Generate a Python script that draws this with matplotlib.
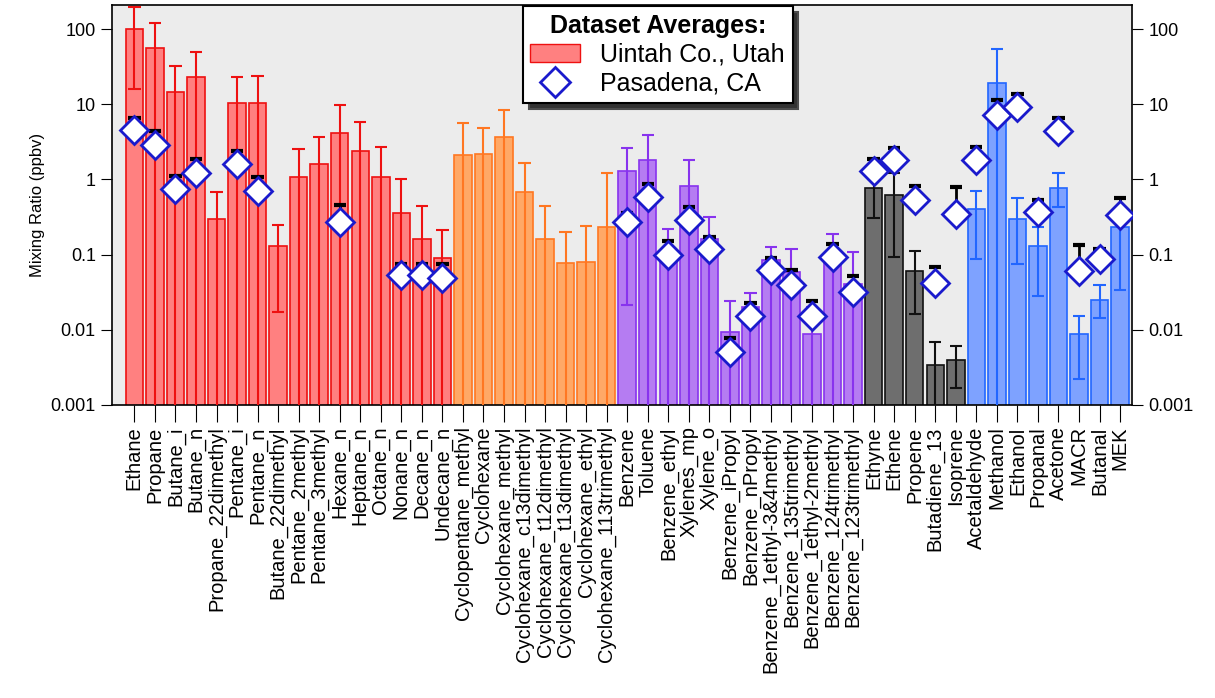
import numpy as np
import matplotlib.pyplot as plt
import matplotlib.patches as mpatches
from matplotlib.lines import Line2D
import matplotlib.ticker as mticker
from matplotlib.patches import Shadow

plt.rcParams['font.family'] = ['Liberation Sans', 'DejaVu Sans']

names = ['Ethane', 'Propane', 'Butane_i', 'Butane_n', 'Propane_22dimethyl', 'Pentane_i', 'Pentane_n',
         'Butane_22dimethyl', 'Pentane_2methyl', 'Pentane_3methyl', 'Hexane_n', 'Heptane_n', 'Octane_n',
         'Nonane_n', 'Decane_n', 'Undecane_n',
         'Cyclopentane_methyl', 'Cyclohexane', 'Cyclohexane_methyl', 'Cyclohexane_c13dimethyl',
         'Cyclohexane_t12dimethyl', 'Cyclohexane_t13dimethyl', 'Cyclohexane_ethyl', 'Cyclohexane_113trimethyl',
         'Benzene', 'Toluene', 'Benzene_ethyl', 'Xylenes_mp', 'Xylene_o', 'Benzene_iPropyl', 'Benzene_nPropyl',
         'Benzene_1ethyl-3&4methyl', 'Benzene_135trimethyl', 'Benzene_1ethyl-2methyl', 'Benzene_124trimethyl',
         'Benzene_123trimethyl',
         'Ethyne', 'Ethene', 'Propene', 'Butadiene_13', 'Isoprene',
         'Acetaldehyde', 'Methanol', 'Ethanol', 'Propanal', 'Acetone', 'MACR', 'Butanal', 'MEK']
group = ['alk'] * 16 + ['cyc'] * 8 + ['aro'] * 12 + ['ole'] * 5 + ['oxy'] * 8

# Uintah averages, upper and lower error ends (None = extends below axis)
uintah = [100, 56, 14.7, 23.4, 0.30, 10.3, 10.3, 0.128, 1.06, 1.6, 4.2, 2.4, 1.06, 0.36, 0.16, 0.091,
          2.1, 2.15, 3.7, 0.67, 0.16, 0.078, 0.08, 0.23,
          1.28, 1.8, 0.105, 0.81, 0.16, 0.0091, 0.02, 0.085, 0.058, 0.0086, 0.09, 0.04,
          0.78, 0.62, 0.061, 0.0033, 0.0038,
          0.40, 19, 0.30, 0.128, 0.78, 0.0086, 0.025, 0.23]
u_hi = [196, 120, 32, 49, 0.67, 23.4, 24, 0.25, 2.5, 3.7, 9.7, 5.8, 2.7, 1.0, 0.44, 0.21,
        5.6, 4.8, 8.3, 1.66, 0.44, 0.20, 0.24, 1.23,
        2.6, 3.9, 0.22, 1.8, 0.32, 0.024, 0.031, 0.125, 0.12, 0.02, 0.19, 0.107,
        1.0, 1.2, 0.11, 0.0069, 0.0061,
        0.7, 55, 0.56, 0.23, 1.2, 0.015, 0.039, 0.4]
u_lo = [16, None, None, None, None, None, None, 0.017, None, None, None, None, None, None, None, None,
        None, None, None, None, None, None, None, None,
        0.021, None, None, None, None, None, None, None, None, None, None, None,
        0.31, 0.094, 0.016, None, 0.0017,
        0.088, None, 0.074, 0.028, 0.43, 0.0022, 0.0145, 0.034]

# Pasadena averages and upper error (NaN = not measured)
nan = np.nan
pasadena = [4.6, 2.9, 0.74, 1.2, nan, 1.6, 0.7, nan, nan, nan, 0.27, nan, nan, 0.054, 0.054, 0.049,
            nan, nan, nan, nan, nan, nan, nan, nan,
            0.27, 0.58, 0.10, 0.29, 0.12, 0.005, 0.015, 0.063, 0.039, 0.015, 0.094, 0.032,
            1.28, 1.8, 0.54, 0.042, 0.35,
            1.8, 7.2, 9.1, 0.37, 4.4, 0.061, 0.088, 0.34]
p_hi = [6.5, 4.4, 1.1, 1.85, nan, 2.4, 1.06, nan, nan, nan, 0.46, nan, nan, 0.074, 0.074, 0.074,
        nan, nan, nan, nan, nan, nan, nan, nan,
        0.36, 0.86, 0.15, 0.43, 0.17, 0.0078, 0.023, 0.09, 0.062, 0.024, 0.14, 0.052,
        1.85, 2.6, 0.81, 0.069, 0.79,
        2.7, 11.5, 13.9, 0.53, 6.6, 0.135, 0.12, 0.56]

face = {'alk': '#ff8080', 'cyc': '#ffa866', 'aro': '#b57cf2', 'ole': '#6e6e6e', 'oxy': '#7ea2ff'}
edge = {'alk': '#ee1111', 'cyc': '#ff7722', 'aro': '#8833ee', 'ole': '#111111', 'oxy': '#2266ff'}

fig = plt.figure(figsize=(12.15, 6.98), dpi=100)
ax = fig.add_axes([0.092, 0.42, 0.84, 0.573])
ax.set_facecolor('#ececec')
x = np.arange(len(names))
fc = [face[g] for g in group]
ec = [edge[g] for g in group]
ax.bar(x, uintah, width=0.85, bottom=1e-4, color=fc, edgecolor=ec, linewidth=1.2, zorder=2)
for i in x:
    lo = u_lo[i] if u_lo[i] is not None else 1e-4
    ax.vlines(i, lo, u_hi[i], color=ec[i], lw=1.5, zorder=3)
    ax.hlines(u_hi[i], i - 0.3, i + 0.3, color=ec[i], lw=1.5, zorder=3)
    if u_lo[i] is not None:
        ax.hlines(lo, i - 0.3, i + 0.3, color=ec[i], lw=1.5, zorder=3)
pas = np.array(pasadena)
ph = np.array(p_hi)
for i in x:
    if not np.isnan(pas[i]):
        ax.vlines(i, pas[i], ph[i], color='black', lw=2, zorder=4)
        ax.hlines(ph[i], i - 0.3, i + 0.3, color='black', lw=3, zorder=4)
ax.plot(x, pas, 'D', ms=14, mfc='white', mec='#1a1acc', mew=2, ls='none', zorder=5)

ax.set_yscale('log')
ax.set_ylim(1e-3, 210)
ax.set_xlim(-1.1, len(names) - 0.4)
ax.yaxis.set_major_locator(mticker.LogLocator(base=10, numticks=10))
ax.yaxis.set_minor_locator(mticker.NullLocator())
ax.yaxis.set_major_formatter(mticker.FuncFormatter(lambda v, p: f'{v:g}'))
ax.tick_params(axis='y', which='major', direction='out', length=8, labelsize=13, right=True, labelright=True)
ax.set_xticks(x)
ax.set_xticklabels(names, rotation=90, fontsize=14.5)
ax.tick_params(axis='x', direction='out', length=12)
ax.set_ylabel('Mixing Ratio (ppbv)', fontsize=12)
for s in ax.spines.values():
    s.set_linewidth(1.2)

handles = [mpatches.Patch(facecolor=face['alk'], edgecolor=edge['alk'], label='Uintah Co., Utah'),
           Line2D([], [], marker='D', ls='none', ms=15, mfc='white', mec='#1a1acc', mew=2, label='Pasadena, CA')]
leg = ax.legend(handles=handles, title='Dataset Averages:', loc='upper center', bbox_to_anchor=(0.535, 1.003),
                fontsize=18, title_fontsize=18, frameon=True, fancybox=False, edgecolor='black',
                framealpha=1, borderpad=0.3, handletextpad=0.8, labelspacing=0.2, borderaxespad=0.1)
leg.get_title().set_fontweight('bold')
leg.get_frame().set_linewidth(1.5)
leg.set_zorder(10)
fig.canvas.draw()
fr = leg.get_frame()
sh = Shadow(fr, 4, -4, facecolor='#333333', alpha=1)
sh.set_zorder(9)
ax.add_artist(sh)
fig.savefig('out.png', dpi=100)
